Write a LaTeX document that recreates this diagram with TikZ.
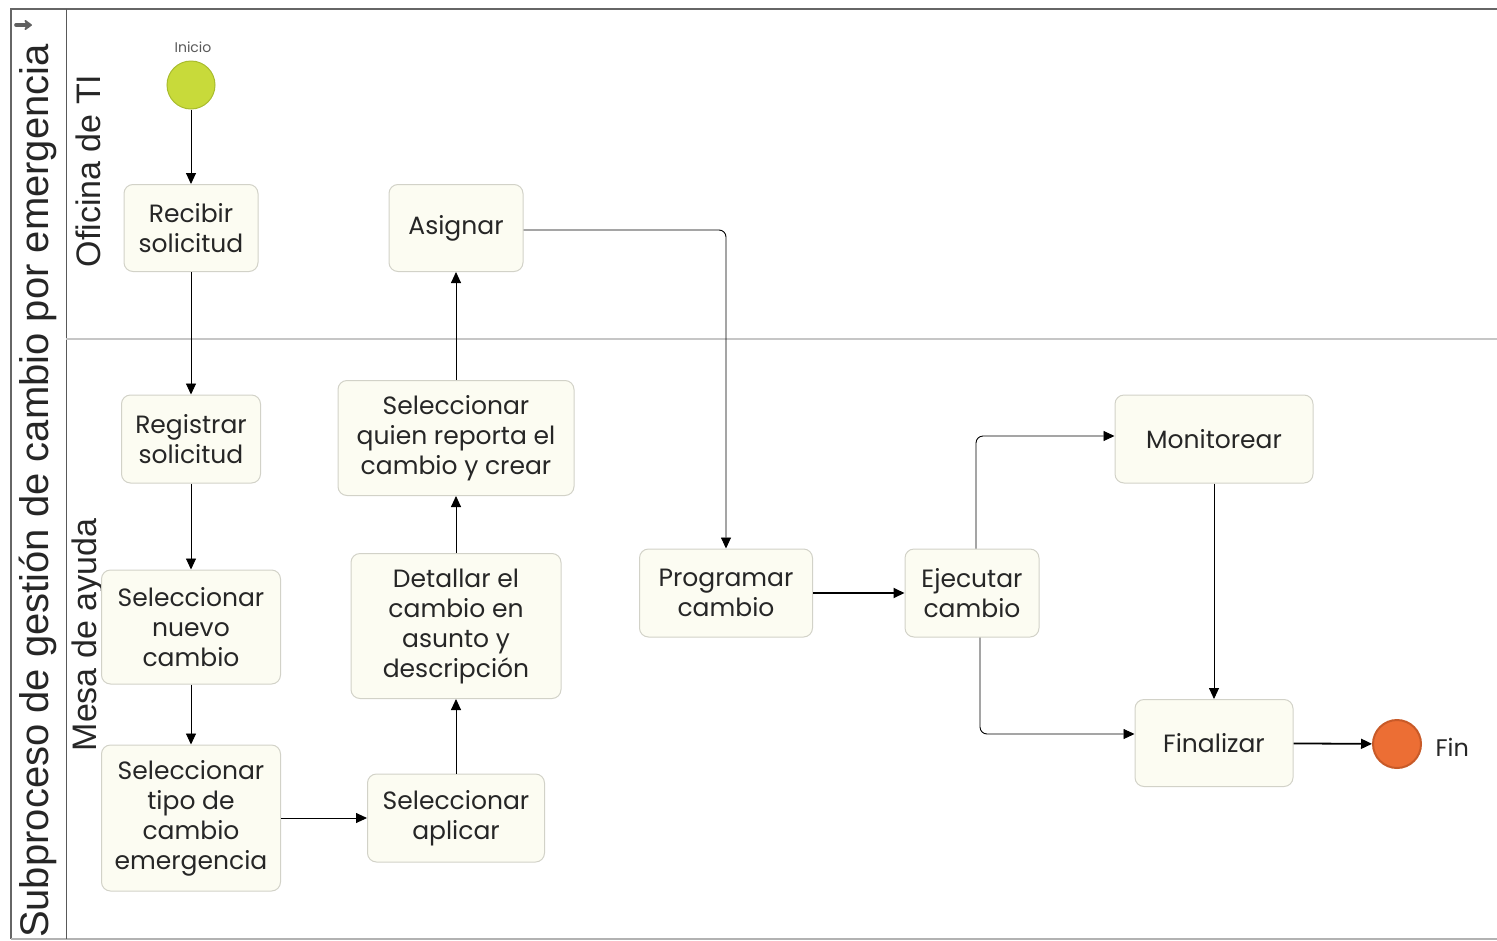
\documentclass[tikz,border=0pt]{standalone}
\usepackage{fontspec}
\setmainfont{Poppins}
\newfontfamily\labelfont{Liberation Sans}
\usetikzlibrary{arrows.meta}
\definecolor{taskfill}{HTML}{FCFCF2}
\definecolor{taskline}{HTML}{D2D2C8}
\definecolor{startfill}{HTML}{C8DA3A}
\definecolor{startline}{HTML}{A9BC2E}
\definecolor{endfill}{HTML}{EC6E34}
\definecolor{endline}{HTML}{C85A28}
\definecolor{txt}{HTML}{262626}
\begin{document}
\begin{tikzpicture}[x=1pt,y=-1pt,
  task/.style={draw=taskline, line width=1pt, fill=taskfill, rounded corners=9pt,
    align=center, text=txt, font=\fontsize{25}{30}\selectfont, inner sep=0pt},
  flow/.style={draw=black, line width=0.9pt, -{Triangle[length=11pt,width=10pt]}},
  bold flow/.style={flow, line width=1.8pt},
  lanetitle/.style={rotate=90, font=\labelfont\fontsize{34}{36}\selectfont, text=txt},
  pooltitle/.style={rotate=90, font=\labelfont\fontsize{40}{42}\selectfont, text=txt},
]
\useasboundingbox (0,0) rectangle (1497,940);
% pool frame and lanes
\draw[draw=gray!80!black, line width=1.2pt] (1497,9) -- (11,9) -- (11,939);
\draw[draw=gray!60, line width=1.2pt] (11,939) -- (1497,939);
\draw[draw=gray!70!black, line width=1pt] (66,9) -- (66,939);
\draw[draw=gray!45, line width=1.2pt] (66,339) -- (1497,339);
% collapse marker of the pool header
\coordinate (markA) at (16,25);
\coordinate (markB) at (32,25);
\draw[draw=gray!75!black, line width=3.6pt, line cap=round,
  -{Stealth[length=9pt,width=13pt,round]}] (markA) -- (markB);
\node[pooltitle] (pool) at (38,491) {Subproceso de gestión de cambio por emergencia};
\node[lanetitle] (lane1) at (88,171) {Oficina de TI};
\node[lanetitle] (lane2) at (88,635) {Mesa de ayuda};

% events
\node[circle, draw=startline, line width=1pt, fill=startfill, minimum size=48pt, inner sep=0pt] (start) at (191,85) {};
\node[text=gray!70!black, font=\fontsize{14}{14}\selectfont] (startlbl) at (193,47) {Inicio};
\node[circle, draw=endline, line width=2pt, fill=endfill, minimum size=48pt, inner sep=0pt] (stop) at (1397,744) {};
\node[text=txt, font=\fontsize{24}{24}\selectfont, anchor=west] (stoplbl) at (1432,747) {Fin};

% tasks
\node[task, minimum width=134pt, minimum height=87pt] (recibir) at (191,228) {Recibir\\solicitud};
\node[task, minimum width=134pt, minimum height=87pt] (asignar) at (456,228) {Asignar};
\node[task, minimum width=139pt, minimum height=88pt] (registrar) at (191,439) {Registrar\\solicitud};
\node[task, minimum width=236pt, minimum height=115pt] (quien) at (456,438) {Seleccionar\\quien reporta el\\cambio y crear};
\node[task, minimum width=179pt, minimum height=114pt] (nuevo) at (191,627) {Seleccionar\\nuevo\\cambio};
\node[task, minimum width=210pt, minimum height=145pt] (detallar) at (456,626) {Detallar el\\cambio en\\asunto y\\descripción};
\node[task, minimum width=173pt, minimum height=88pt] (programar) at (726,593) {Programar\\cambio};
\node[task, minimum width=134pt, minimum height=88pt] (ejecutar) at (972,593) {Ejecutar\\cambio};
\node[task, minimum width=198pt, minimum height=88pt] (monitorear) at (1214,439) {Monitorear};
\node[task, minimum width=158pt, minimum height=87pt] (finalizar) at (1214,743) {Finalizar};
\node[task, minimum width=179pt, minimum height=146pt] (tipo) at (191,818) {Seleccionar\\tipo de\\cambio\\emergencia};
\node[task, minimum width=177pt, minimum height=88pt] (aplicar) at (456,818) {Seleccionar\\aplicar};

% sequence flows
\draw[flow] (start) -- (recibir);
\draw[flow] (recibir) -- (registrar);
\draw[flow] (registrar) -- (nuevo);
\draw[flow] (nuevo) -- (tipo);
\draw[flow] (tipo) -- (aplicar);
\draw[flow] (aplicar) -- (detallar);
\draw[flow] (detallar) -- (quien);
\draw[flow] (quien) -- (asignar);
\draw[flow, rounded corners=7pt] ([yshift=-2pt]asignar.east) -| (programar.north);
\draw[bold flow] (programar) -- (ejecutar);
\draw[flow, rounded corners=7pt] ([xshift=4pt]ejecutar.north) |- ([yshift=3pt]monitorear.west);
\draw[flow, rounded corners=7pt] ([xshift=8pt]ejecutar.south) |- ([yshift=9pt]finalizar.west);
\draw[flow] (monitorear) -- (finalizar);
\draw[bold flow] (finalizar) -- (stop);
\end{tikzpicture}
\end{document}
